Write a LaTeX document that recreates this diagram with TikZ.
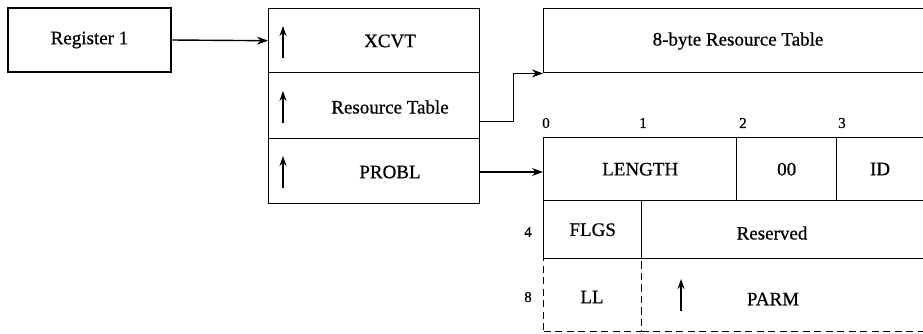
\documentclass[tikz,border=0pt]{standalone}
\usepackage{fontspec}
\setmainfont{Liberation Serif}[FakeBold=0.7]
\usetikzlibrary{arrows.meta}
\begin{document}
\begin{tikzpicture}[x=1pt,y=-1pt, line width=1.4pt,
  box/.style={draw, line width=1.4pt, inner sep=0pt, font=\fontsize{19}{22}\selectfont},
  dbox/.style={box, dash pattern=on 7pt off 4.5pt},
  num/.style={font=\fontsize{15}{18}\selectfont, inner sep=0pt},
  txt/.style={font=\fontsize{19}{22}\selectfont, inner sep=0pt},
  conn/.style={-{Stealth[length=11pt,width=8pt]}, line width=1.4pt},
  ptr/.style={-{Stealth[length=10pt,width=7pt]}, line width=1.4pt}]
\useasboundingbox (0,0) rectangle (923,333);

% Register 1
\node[box, minimum width=163pt, minimum height=64pt] (reg) at (89.5,40) {Register 1};

% middle stack
\node[box, minimum width=211pt, minimum height=64pt, anchor=north west] (xcvt) at (268,8) {};
\node[box, minimum width=211pt, minimum height=66pt, anchor=north west] (rt) at (268,72) {};
\node[box, minimum width=211pt, minimum height=65pt, anchor=north west] (probl) at (268,138) {};
\node[txt] (xcvtt) at (390,41) {XCVT};
\node[txt] (rtt) at (390,107) {Resource Table};
\node[txt] (problt) at (390,172) {PROBL};
\draw[ptr] (283,58) -- (283,26);
\draw[ptr] (283,123) -- (283,91);
\draw[ptr] (283,188) -- (283,156);

% 8-byte table
\node[box, minimum width=390pt, minimum height=64pt, anchor=north west] (tbl) at (543,8) {};
\node[txt] (tblt) at (738,41) {8-byte Resource Table};

% bottom table
\node[dbox, minimum width=98pt, minimum height=73pt, anchor=north west] (ll) at (543,258) {};
\node[dbox, minimum width=290pt, minimum height=73pt, anchor=north west] (parm) at (641,258) {};
\node[box, minimum width=193pt, minimum height=63pt, anchor=north west] (len) at (543,137) {LENGTH};
\node[box, minimum width=100pt, minimum height=63pt, anchor=north west] (zero) at (736,137) {00};
\node[box, minimum width=100pt, minimum height=63pt, anchor=north west] (id) at (836,137) {};
\node[box, minimum width=98pt, minimum height=58pt, anchor=north west] (flgs) at (543,200) {FLGS};
\node[box, minimum width=290pt, minimum height=58pt, anchor=north west] (res) at (641,200) {};
\node[txt] (idt) at (880,169) {ID};
\node[txt] (rest) at (772,233) {Reserved};
\node[txt] (llt) at (592,297) {LL};
\node[txt] (parmt) at (773,299) {PARM};
\draw[ptr] (681,311) -- (681,279);

% offsets
\node[num] (n0) at (546,123) {0};
\node[num] (n1) at (643,123) {1};
\node[num] (n2) at (743,123) {2};
\node[num] (n3) at (842,123) {3};
\node[num] (n4) at (528,232) {4};
\node[num] (n8) at (528,297) {8};

% connectors
\draw[conn] (reg.east) -- (xcvt.west);
\draw[conn] ([yshift=-16pt]rt.east) -- ++(33,0) |- (tbl.south west);
\draw[conn] (problt.east -| probl.east) -- (problt.east -| len.west);
\end{tikzpicture}
\end{document}
